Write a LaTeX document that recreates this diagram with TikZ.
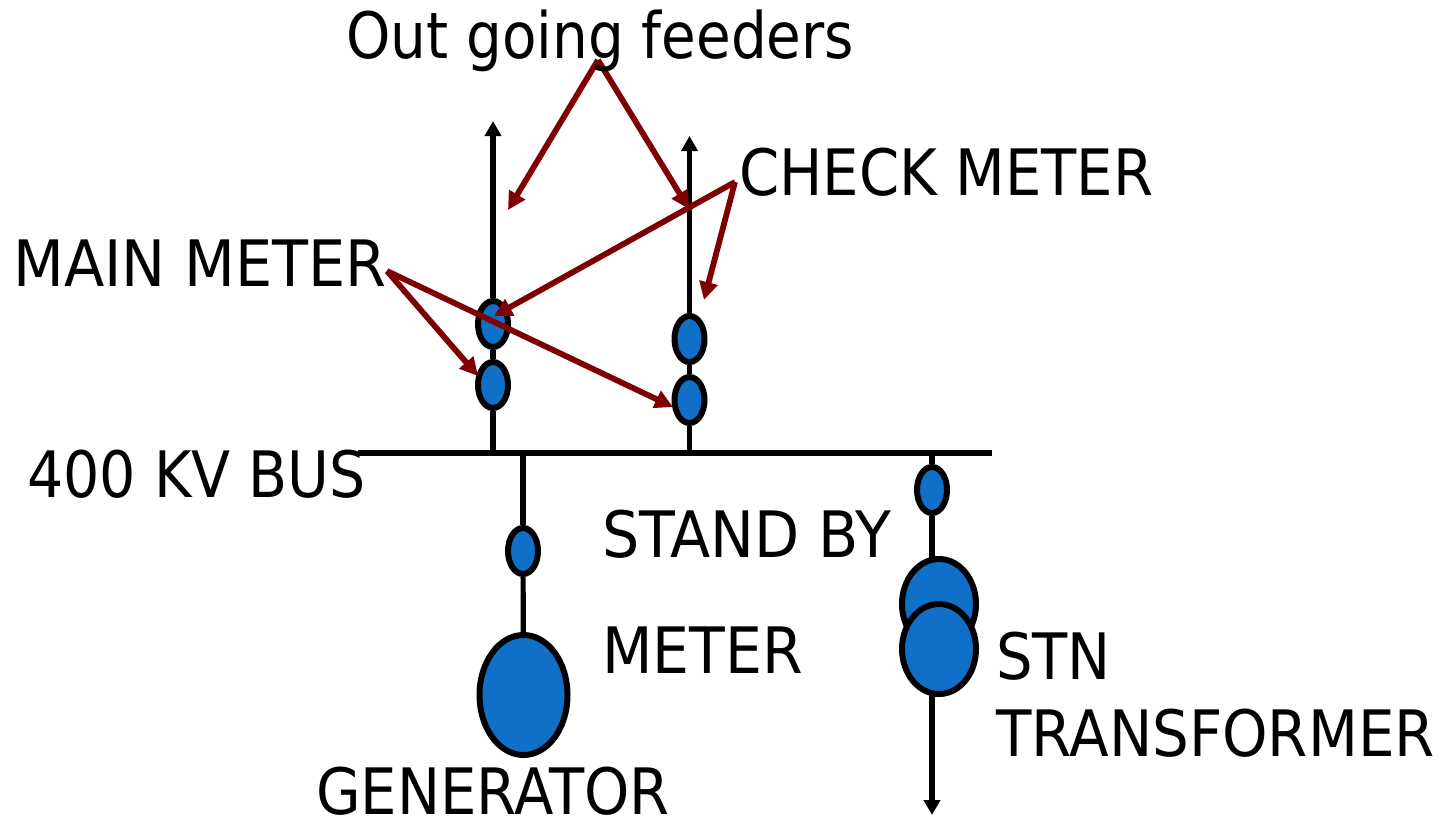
\documentclass[tikz,border=0pt]{standalone}
\usepackage{fontspec}
\setmainfont{DejaVu Sans}[FakeStretch=0.9]
\usetikzlibrary{shapes.geometric,arrows.meta}
\definecolor{fillblue}{HTML}{1070C8}
\definecolor{arrowred}{HTML}{7F0000}
\tikzset{
  wire/.style={black,line width=5.2pt},
  wirearrow/.style={wire,-{Triangle[length=15pt,width=16pt]}},
  pointer/.style={arrowred,line width=5.8pt,-{Triangle[length=18pt,width=18pt]}},
  blob/.style={ellipse,draw=black,line width=6pt,fill=fillblue,inner sep=0pt},
  ct/.style={blob,minimum width=30pt,minimum height=46pt},
  label/.style={anchor=base west,inner sep=0pt,font=\fontsize{64}{70}\selectfont,text=black,transform shape}
}
\begin{document}
\begin{tikzpicture}[x=1pt,y=-1pt]
\useasboundingbox[fill=white] (0,0) rectangle (1441,815);
% free ends
\coordinate (busL) at (358,453);
\coordinate (busR) at (992,453);
\coordinate (f1bus) at (493,453);
\coordinate (f2bus) at (689.5,453);
\coordinate (gbus) at (523,453);
\coordinate (sbus) at (932,453);
\coordinate (f1top) at (493,121);
\coordinate (f2top) at (689.5,136);
\coordinate (sbot) at (932,815);
\coordinate (ofeed) at (598,60);
\coordinate (ofeedA) at (508,210);
\coordinate (ofeedB) at (689,209);
\coordinate (chk) at (735,182);
\coordinate (chkA) at (494,316);
\coordinate (chkB) at (704,300);
\coordinate (mn) at (387,271);
\coordinate (mnA) at (478,376);
\coordinate (mnB) at (673,407);
% blobs
\node[ct] (f1u) at (493,324) {};
\node[ct] (f1l) at (493,385) {};
\node[ct] (f2u) at (689.5,339) {};
\node[ct] (f2l) at (689.5,400) {};
\node[ct] (gct) at (523,551) {};
\node[ct] (sct) at (932,490) {};
\node[blob,minimum width=88pt,minimum height=120pt] (gen) at (523.5,695) {};
\node[blob,minimum width=74pt,minimum height=90pt] (tr1) at (939,604) {};
\node[blob,minimum width=74pt,minimum height=90pt] (tr2) at (939,649) {};
% wires
\draw[wire] (busL) -- (busR);
\draw[wire] (f1bus) -- (f1l);
\draw[wire] (f1l) -- (f1u);
\draw[wirearrow] (f1u) -- (f1top);
\draw[wire] (f2bus) -- (f2l);
\draw[wire] (f2l) -- (f2u);
\draw[wirearrow] (f2u) -- (f2top);
\draw[wire] (gbus) -- (gct);
\draw[wire] (gct) -- (gen);
\draw[wire] (sbus) -- (sct);
\draw[wire] (sct) -- (932,558);
\draw[wirearrow] (932,693) -- (sbot);
% red pointers
\draw[pointer] (ofeed) -- (ofeedA);
\draw[pointer] (ofeed) -- (ofeedB);
\draw[pointer] (chk) -- (chkA);
\draw[pointer] (chk) -- (chkB);
\draw[pointer] (mn) -- (mnA);
\draw[pointer] (mn) -- (mnB);
% labels
\node[label,xscale=.979] (tOut) at (346,58) {Out going feeders};
\node[label] (tChk) at (739,195) {CHECK METER};
\node[label,xscale=1.022] (tMain) at (13,286) {MAIN METER};
\node[label,xscale=.99] (tBus) at (27,497) {400 KV BUS};
\node[label,xscale=1.018] (tSb) at (602,557) {STAND BY};
\node[label,xscale=1.015] (tMet) at (602,673) {METER};
\node[label] (tGen) at (316,814) {GENERATOR};
\node[label] (tStn) at (996,679) {STN};
\node[label,xscale=1.005] (tTr) at (996,756) {TRANSFORMER};
\end{tikzpicture}
\end{document}
